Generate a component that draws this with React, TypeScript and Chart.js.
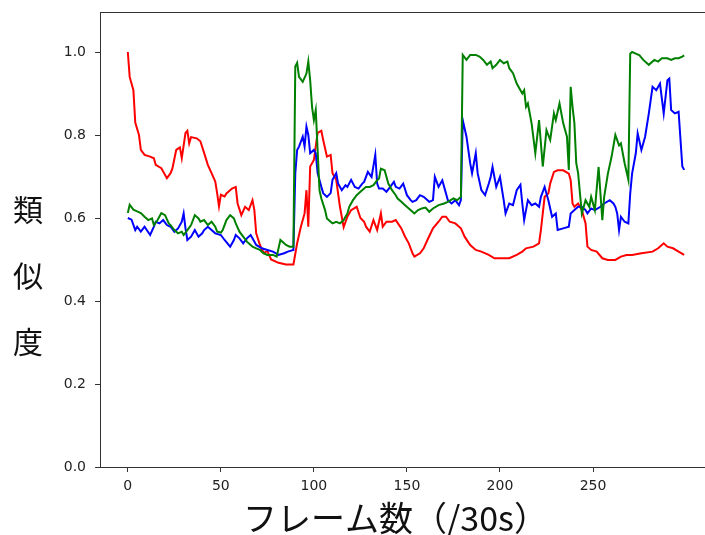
import React, { useEffect, useRef } from "react";
import { Chart, registerables } from "chart.js";

Chart.register(...registerables);

const xTickValues = [0, 50, 100, 150, 200, 250];
const yTickValues = [0, 0.2, 0.4, 0.6, 0.8, 1.0];
const yLabelChars = ["類", "似", "度"];
const xLabelText = "フレーム数（/30s）";

const redFrames = [0, 1, 3, 4, 6, 7, 9, 12, 14, 15, 18, 21, 23, 24, 26, 28, 29, 31, 32, 33, 34, 37, 39, 41, 43, 45, 47, 48, 49, 50, 52, 53, 56, 58, 59, 61, 63, 65, 67, 68, 69, 71, 73, 75, 77, 81, 85, 89, 91, 93, 95, 96, 97, 98, 100, 102, 104, 105, 107, 109, 110, 112, 114, 116, 118, 120, 123, 125, 127, 128, 130, 132, 134, 136, 137, 139, 142, 144, 147, 149, 151, 153, 154, 157, 159, 161, 164, 167, 169, 171, 173, 176, 179, 181, 184, 187, 190, 194, 197, 202, 205, 209, 212, 214, 218, 221, 222, 223, 224, 226, 227, 229, 231, 234, 237, 238, 239, 240, 242, 244, 246, 247, 249, 252, 255, 258, 262, 265, 268, 271, 276, 282, 285, 288, 290, 293, 296, 299];
const redValues = [1.0, 0.94, 0.908, 0.83, 0.8, 0.764, 0.752, 0.748, 0.744, 0.728, 0.72, 0.696, 0.708, 0.72, 0.764, 0.77, 0.744, 0.805, 0.81, 0.78, 0.795, 0.792, 0.785, 0.757, 0.728, 0.708, 0.688, 0.66, 0.628, 0.656, 0.652, 0.659, 0.671, 0.675, 0.635, 0.607, 0.627, 0.619, 0.643, 0.619, 0.563, 0.535, 0.516, 0.52, 0.5, 0.492, 0.488, 0.488, 0.539, 0.579, 0.611, 0.667, 0.579, 0.724, 0.74, 0.805, 0.81, 0.788, 0.748, 0.752, 0.708, 0.692, 0.627, 0.578, 0.603, 0.619, 0.627, 0.6, 0.591, 0.579, 0.567, 0.595, 0.571, 0.611, 0.579, 0.591, 0.591, 0.595, 0.575, 0.555, 0.539, 0.515, 0.507, 0.515, 0.527, 0.547, 0.575, 0.591, 0.603, 0.603, 0.591, 0.587, 0.575, 0.555, 0.535, 0.523, 0.519, 0.511, 0.503, 0.503, 0.503, 0.511, 0.519, 0.527, 0.531, 0.539, 0.571, 0.611, 0.651, 0.659, 0.683, 0.711, 0.715, 0.715, 0.707, 0.691, 0.635, 0.627, 0.635, 0.619, 0.587, 0.531, 0.523, 0.519, 0.503, 0.499, 0.499, 0.507, 0.511, 0.511, 0.515, 0.519, 0.527, 0.539, 0.531, 0.527, 0.519, 0.511];

const blueFrames = [0, 2, 4, 5, 7, 9, 12, 14, 15, 17, 19, 21, 23, 25, 27, 29, 30, 31, 32, 34, 36, 38, 40, 41, 43, 45, 47, 50, 52, 55, 57, 58, 60, 62, 64, 66, 67, 69, 72, 75, 78, 81, 84, 86, 89, 90, 91, 92, 94, 95, 96, 97, 98, 100, 101, 102, 104, 105, 107, 109, 110, 112, 113, 115, 117, 118, 120, 122, 124, 126, 127, 129, 131, 133, 134, 135, 137, 139, 141, 143, 144, 146, 148, 150, 152, 153, 155, 157, 159, 162, 164, 165, 167, 169, 170, 172, 174, 176, 178, 179, 180, 182, 184, 185, 187, 188, 190, 192, 194, 195, 196, 198, 200, 202, 203, 205, 207, 209, 211, 212, 213, 215, 217, 219, 221, 222, 224, 226, 228, 230, 231, 234, 237, 238, 240, 242, 244, 246, 247, 249, 251, 254, 256, 259, 261, 262, 263, 264, 265, 267, 269, 270, 271, 273, 274, 276, 278, 280, 281, 282, 284, 286, 288, 290, 291, 292, 294, 296, 298, 299];
const blueValues = [0.6, 0.596, 0.571, 0.579, 0.567, 0.579, 0.559, 0.579, 0.591, 0.587, 0.595, 0.583, 0.579, 0.567, 0.575, 0.591, 0.611, 0.575, 0.547, 0.555, 0.571, 0.555, 0.563, 0.571, 0.579, 0.571, 0.563, 0.559, 0.547, 0.531, 0.547, 0.559, 0.551, 0.539, 0.551, 0.559, 0.551, 0.535, 0.527, 0.523, 0.519, 0.511, 0.515, 0.519, 0.523, 0.708, 0.764, 0.772, 0.796, 0.772, 0.82, 0.8, 0.756, 0.764, 0.756, 0.708, 0.675, 0.66, 0.651, 0.66, 0.692, 0.708, 0.683, 0.667, 0.679, 0.675, 0.692, 0.675, 0.671, 0.683, 0.687, 0.711, 0.699, 0.752, 0.683, 0.671, 0.671, 0.663, 0.675, 0.687, 0.675, 0.671, 0.683, 0.655, 0.643, 0.639, 0.643, 0.655, 0.651, 0.639, 0.643, 0.699, 0.675, 0.691, 0.675, 0.643, 0.635, 0.643, 0.631, 0.643, 0.836, 0.796, 0.732, 0.708, 0.756, 0.708, 0.667, 0.655, 0.683, 0.699, 0.723, 0.675, 0.699, 0.643, 0.611, 0.635, 0.631, 0.667, 0.68, 0.635, 0.595, 0.643, 0.631, 0.635, 0.627, 0.651, 0.675, 0.643, 0.603, 0.611, 0.571, 0.575, 0.579, 0.611, 0.619, 0.627, 0.627, 0.619, 0.611, 0.623, 0.619, 0.627, 0.635, 0.643, 0.635, 0.627, 0.611, 0.571, 0.603, 0.591, 0.587, 0.659, 0.707, 0.756, 0.804, 0.764, 0.796, 0.852, 0.884, 0.916, 0.908, 0.924, 0.852, 0.932, 0.936, 0.86, 0.852, 0.856, 0.724, 0.716];

const greenFrames = [0, 1, 3, 5, 7, 9, 11, 13, 14, 16, 18, 20, 22, 23, 25, 27, 29, 30, 32, 34, 36, 38, 39, 41, 43, 45, 47, 48, 50, 51, 53, 55, 57, 58, 60, 62, 64, 66, 67, 69, 71, 73, 75, 78, 80, 82, 84, 85, 87, 89, 90, 91, 92, 94, 96, 97, 98, 99, 100, 101, 102, 103, 104, 106, 107, 109, 110, 112, 114, 116, 118, 119, 121, 123, 125, 127, 128, 130, 132, 134, 135, 136, 138, 140, 142, 144, 145, 147, 149, 151, 153, 154, 156, 158, 160, 162, 164, 167, 170, 172, 175, 177, 179, 180, 182, 184, 187, 189, 191, 193, 195, 196, 198, 200, 202, 204, 205, 207, 209, 211, 212, 213, 214, 215, 217, 219, 221, 222, 223, 225, 227, 229, 230, 232, 234, 236, 237, 238, 239, 240, 241, 242, 243, 244, 246, 248, 249, 251, 253, 255, 256, 258, 260, 262, 264, 265, 267, 269, 270, 271, 273, 275, 277, 280, 282, 283, 285, 287, 290, 292, 294, 296, 298, 299];
const greenValues = [0.612, 0.632, 0.62, 0.616, 0.612, 0.603, 0.595, 0.599, 0.583, 0.595, 0.612, 0.607, 0.587, 0.583, 0.571, 0.563, 0.567, 0.559, 0.571, 0.583, 0.607, 0.599, 0.591, 0.595, 0.583, 0.591, 0.579, 0.567, 0.565, 0.571, 0.595, 0.607, 0.599, 0.587, 0.567, 0.555, 0.543, 0.535, 0.531, 0.527, 0.523, 0.515, 0.511, 0.511, 0.507, 0.547, 0.539, 0.535, 0.531, 0.531, 0.965, 0.974, 0.94, 0.928, 0.948, 0.977, 0.932, 0.868, 0.836, 0.86, 0.764, 0.667, 0.647, 0.619, 0.599, 0.591, 0.587, 0.591, 0.587, 0.595, 0.611, 0.627, 0.643, 0.655, 0.663, 0.671, 0.675, 0.675, 0.679, 0.691, 0.695, 0.719, 0.715, 0.683, 0.667, 0.655, 0.647, 0.639, 0.631, 0.623, 0.615, 0.611, 0.619, 0.623, 0.625, 0.615, 0.623, 0.631, 0.635, 0.639, 0.647, 0.643, 0.651, 0.993, 0.981, 0.993, 0.993, 0.989, 0.981, 0.969, 0.977, 0.961, 0.969, 0.981, 0.973, 0.977, 0.961, 0.949, 0.924, 0.908, 0.9, 0.908, 0.868, 0.876, 0.828, 0.756, 0.836, 0.78, 0.724, 0.812, 0.788, 0.852, 0.836, 0.876, 0.828, 0.796, 0.716, 0.916, 0.868, 0.828, 0.732, 0.708, 0.659, 0.611, 0.643, 0.627, 0.651, 0.619, 0.723, 0.595, 0.651, 0.707, 0.748, 0.8, 0.775, 0.78, 0.732, 0.692, 0.996, 1.0, 0.996, 0.992, 0.981, 0.969, 0.977, 0.981, 0.977, 0.985, 0.985, 0.981, 0.985, 0.985, 0.989, 0.992];

const toPoints = (fr: number[], vals: number[]) => fr.map((f, i) => ({ x: f, y: vals[i] }));

const SPINE = "#333333";

const textPlugin = {
  id: "customText",
  afterDraw(chart: any) {
    const { ctx, chartArea } = chart;
    ctx.save();
    ctx.strokeStyle = SPINE;
    ctx.lineWidth = 1;
    ctx.beginPath();
    ctx.moveTo(chartArea.left, chartArea.top + 0.5);
    ctx.lineTo(chartArea.right, chartArea.top + 0.5);
    ctx.moveTo(chartArea.right - 0.5, chartArea.top);
    ctx.lineTo(chartArea.right - 0.5, chartArea.bottom);
    ctx.stroke();
    ctx.fillStyle = "#111";
    ctx.textAlign = "center";
    ctx.textBaseline = "middle";
    ctx.font = '30px "Noto Sans CJK JP"';
    const ys = [210, 276, 342];
    yLabelChars.forEach((c, i) => ctx.fillText(c, 28, ys[i]));
    ctx.font = '34px "Noto Sans CJK JP"';
    ctx.textAlign = "left";
    ctx.fillText(xLabelText, 243, 518);
    ctx.restore();
  },
};

export default function App() {
  const ref = useRef<HTMLCanvasElement>(null);
  useEffect(() => {
    const canvas = ref.current!;
    const chart = new Chart(canvas, {
      type: "line",
      data: {
        datasets: [
          { data: toPoints(greenFrames, greenValues), borderColor: "#008000", borderWidth: 2, pointRadius: 0, tension: 0, fill: false },
          { data: toPoints(blueFrames, blueValues), borderColor: "#0000ff", borderWidth: 2, pointRadius: 0, tension: 0, fill: false },
          { data: toPoints(redFrames, redValues), borderColor: "#ff0000", borderWidth: 2, pointRadius: 0, tension: 0, fill: false },
        ],
      },
      options: {
        animation: false,
        responsive: false,
        devicePixelRatio: 1,
        layout: { padding: { left: 0, top: 12, right: 8, bottom: 0 } },
        plugins: { legend: { display: false }, tooltip: { enabled: false } },
        scales: {
          x: {
            type: "linear",
            min: -14.95,
            max: 313.95,
            afterFit: (s: any) => { s.height = 68; s.paddingLeft = 0; s.paddingRight = 0; },
            afterBuildTicks: (s: any) => { s.ticks = xTickValues.map((v) => ({ value: v })); },
            grid: { drawOnChartArea: false, drawTicks: true, tickLength: 5, tickColor: SPINE, tickWidth: 1 },
            border: { display: true, color: SPINE, width: 1 },
            ticks: { color: "#222", font: { family: "DejaVu Sans", size: 14 }, padding: 6, maxRotation: 0, autoSkip: false },
          },
          y: {
            type: "linear",
            min: 0,
            max: 1.0964,
            afterFit: (s: any) => { s.width = 100; s.paddingTop = 0; s.paddingBottom = 0; },
            afterBuildTicks: (s: any) => { s.ticks = yTickValues.map((v) => ({ value: v })); },
            grid: { drawOnChartArea: false, drawTicks: true, tickLength: 5, tickColor: SPINE, tickWidth: 1 },
            border: { display: true, color: SPINE, width: 1 },
            ticks: { color: "#222", font: { family: "DejaVu Sans", size: 14 }, padding: 9, autoSkip: false, callback: (v: any) => Number(v).toFixed(1) },
          },
        },
      },
      plugins: [textPlugin],
    });
    return () => chart.destroy();
  }, []);
  return (
    <div style={{ position: "fixed", left: 0, top: 0, width: 705, height: 535, overflow: "hidden", background: "#fff" }}>
      <canvas ref={ref} width={720} height={535} style={{ display: "block", width: 720, height: 535 }} />
    </div>
  );
}
